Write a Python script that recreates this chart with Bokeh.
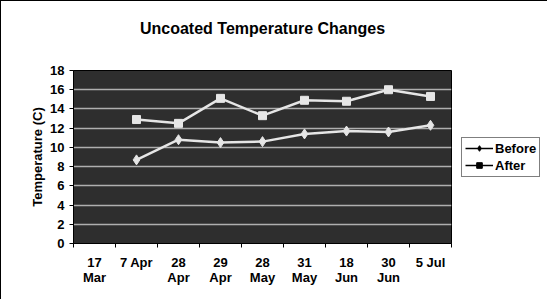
import math
from bokeh.plotting import figure
from bokeh.models import (Range1d, FixedTicker, Legend, LegendItem, ColumnDataSource, Title)
from bokeh.embed import file_html
from bokeh.resources import INLINE

dates = ["17\nMar", "7 Apr", "28\nApr", "29\nApr", "28\nMay", "31\nMay", "18\nJun", "30\nJun", "5 Jul"]
before = [math.nan, 8.7, 10.8, 10.5, 10.6, 11.4, 11.7, 11.6, 12.3]
after = [math.nan, 12.9, 12.5, 15.1, 13.3, 14.9, 14.8, 16.0, 15.3]
y_ticks = [0, 2, 4, 6, 8, 10, 12, 14, 16, 18]

xs = [i + 0.5 for i in range(len(dates))]
FONT = "Liberation Sans"

p = figure(frame_width=378, frame_height=173, output_backend="svg", toolbar_location=None,
           x_range=Range1d(0, len(dates)), y_range=Range1d(0, 18))
p.min_border_left = 72
p.min_border_right = 0
p.min_border_top = 69
p.min_border_bottom = 57

p.title = Title(text="Uncoated Temperature Changes\n ", align="center",
                text_font=FONT, text_font_size="16px", text_font_style="bold",
                text_color="black", text_line_height=1.5, standoff=16)

p.background_fill_color = "#2e2e2e"
p.border_fill_color = "white"
p.outline_line_color = "black"
p.styles = {"border-left": "1px solid black", "border-top": "1px solid black"}

# grid
p.xgrid.visible = False
p.ygrid.ticker = FixedTicker(ticks=y_ticks)
p.ygrid.grid_line_color = "#d0d0d0"
p.ygrid.grid_line_width = 1.5
p.ygrid.grid_line_alpha = 0.8

# x axis
xa = p.xaxis[0]
xa.ticker = FixedTicker(ticks=xs, minor_ticks=list(range(len(dates) + 1)))
xa.major_label_overrides = {x: d for x, d in zip(xs, dates)}
xa.major_tick_line_color = None
xa.major_tick_out = 0
xa.major_tick_in = 0
xa.minor_tick_line_color = "black"
xa.minor_tick_out = 4
xa.minor_tick_in = 0
xa.major_label_standoff = 7
xa.major_label_text_font = FONT
xa.major_label_text_font_size = "13px"
xa.major_label_text_font_style = "bold"
xa.major_label_text_color = "black"
xa.major_label_text_line_height = 1.0
xa.axis_line_color = "black"

# y axis
ya = p.yaxis[0]
ya.ticker = FixedTicker(ticks=y_ticks)
ya.minor_tick_line_color = None
ya.major_tick_out = 4
ya.major_tick_in = 0
ya.major_tick_line_color = "black"
ya.major_label_standoff = 5
ya.major_label_text_font = FONT
ya.major_label_text_font_size = "13px"
ya.major_label_text_font_style = "bold"
ya.major_label_text_color = "black"
ya.axis_label = "Temperature (C)"
ya.axis_label_text_font = FONT
ya.axis_label_text_font_size = "13px"
ya.axis_label_text_font_style = "bold"
ya.axis_label_text_color = "black"
ya.axis_label_standoff = 2
ya.axis_line_color = "black"

src = ColumnDataSource(dict(x=xs, before=before, after=after))

# black renderers (used for the legend), hidden beneath the light plotted lines
lb = p.line("x", "before", source=src, line_color="black", line_width=1.5)
sb = p.scatter("x", "before", source=src, marker="diamond", size=8, fill_color="black", line_color="black")
la = p.line("x", "after", source=src, line_color="black", line_width=1.5)
sa = p.scatter("x", "after", source=src, marker="square", size=6, fill_color="black", line_color="black")

p.line("x", "before", source=src, line_color="#e6e6e6", line_width=2.5)
p.scatter("x", "before", source=src, marker="diamond", size=10, fill_color="#e6e6e6", line_color="#e6e6e6")
p.line("x", "after", source=src, line_color="#e6e6e6", line_width=2.5)
p.scatter("x", "after", source=src, marker="square", size=8, fill_color="#e6e6e6", line_color="#e6e6e6")

legend = Legend(items=[LegendItem(label="Before", renderers=[lb, sb]),
                       LegendItem(label="After", renderers=[la, sa])],
                location="center_left", orientation="vertical",
                label_text_font=FONT, label_text_font_size="13px", label_text_font_style="bold",
                label_text_color="black", border_line_color="black", border_line_width=1,
                background_fill_color="white", background_fill_alpha=1.0,
                glyph_width=28, glyph_height=14, label_standoff=2, padding=3, spacing=2,
                margin=10, label_height=14)
p.add_layout(legend, "right")

open("out.html", "w").write(file_html(p, INLINE))
